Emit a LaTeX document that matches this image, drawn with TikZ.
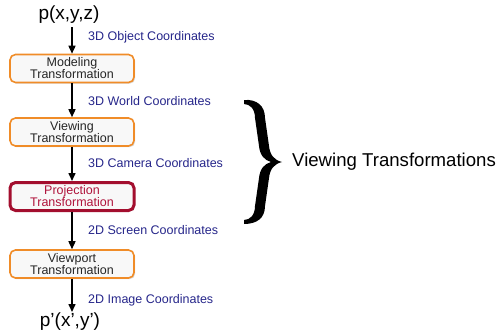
\documentclass[tikz,border=0pt]{standalone}
\usepackage{fontspec}
\setmainfont{Liberation Sans}
\usetikzlibrary{arrows.meta,shadows}
\definecolor{boxorange}{HTML}{F08C28}
\definecolor{boxred}{HTML}{A30E2E}
\definecolor{redtext}{HTML}{B0143C}
\definecolor{labelnavy}{HTML}{26268A}
\definecolor{boxfill}{HTML}{F8F8F8}
\tikzset{
  stagebox/.style={draw=boxorange, line width=1.6pt, fill=boxfill, rounded corners=5.5pt,
    minimum width=124pt, minimum height=28pt, inner sep=0pt, align=center,
    text=black!85, font=\fontsize{12.5}{12}\selectfont,
    drop shadow={shadow xshift=1.2pt, shadow yshift=-1.2pt, fill=black!25, opacity=0.6}},
  projbox/.style={stagebox, draw=boxred, line width=3pt, text=redtext,
    minimum width=124pt, minimum height=28pt},
  coordlabel/.style={anchor=west, text=labelnavy, font=\fontsize{12.5}{14}\selectfont, inner sep=0pt},
  pointlabel/.style={font=\fontsize{19}{21}\selectfont, inner sep=1pt},
  flow/.style={line width=1.5pt, -{Triangle[length=8pt,width=7pt]}},
}
\begin{document}
\begin{tikzpicture}[x=1pt,y=-1pt]
\useasboundingbox (0,0) rectangle (502,335);
\node[pointlabel] (p) at (69,15) {p(x,y,z)};
\node[stagebox] (m) at (72,68.5) {Modeling\\Transformation};
\node[stagebox] (v) at (72,132) {Viewing\\Transformation};
\node[projbox] (pr) at (72,196.5) {Projection\\Transformation};
\node[stagebox] (vp) at (72,264) {Viewport\\Transformation};
\node[pointlabel] (q) at (70,322) {p’(x’,y’)};
\coordinate (ptop) at (72,27);
\coordinate (qtop) at (72,312);
\draw[flow] (ptop) -- (m);
\draw[flow] (m) -- (v);
\draw[flow] (v) -- (pr);
\draw[flow] (pr) -- (vp);
\draw[flow] (vp) -- (qtop);
\node[coordlabel] (l1) at (88,37) {3D Object Coordinates};
\node[coordlabel] (l2) at (88,101) {3D World Coordinates};
\node[coordlabel] (l3) at (88,163) {3D Camera Coordinates};
\node[coordlabel] (l4) at (88,230) {2D Screen Coordinates};
\node[coordlabel] (l5) at (88,300) {2D Image Coordinates};
\fill[black] (244,100) .. controls (257,99) and (265,106) .. (265,118)
  -- (269,146) .. controls (270,155) and (274,160) .. (282,162)
  .. controls (274,164) and (270,169) .. (269,178)
  -- (265,206) .. controls (265,218) and (257,224) .. (244,224)
  -- (244,220) .. controls (250,220) and (255,215) .. (255,206)
  -- (259,178) .. controls (260,169) and (264,164) .. (271,162)
  .. controls (264,160) and (260,155) .. (259,146)
  -- (255,118) .. controls (255,109) and (250,104) .. (244,104) -- cycle;
\node[anchor=west, font=\fontsize{18.6}{20}\selectfont, inner sep=0pt] (vt) at (292,162) {Viewing Transformations};
\end{tikzpicture}
\end{document}
